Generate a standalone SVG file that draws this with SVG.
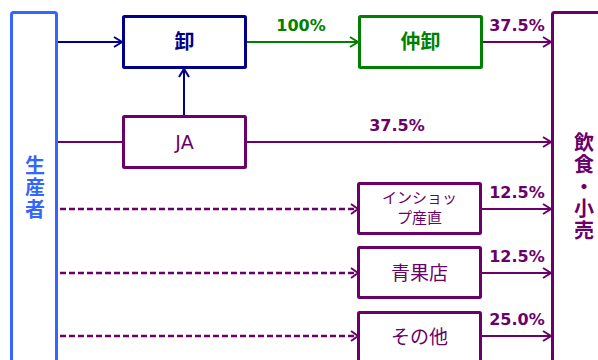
<svg xmlns="http://www.w3.org/2000/svg" width="598" height="360" viewBox="0 0 598 360">
<defs>
<style>
.box{fill:#fff;stroke-width:3}
.ln{fill:none;stroke-width:2}
.dash{fill:none;stroke-width:2.5;stroke-dasharray:6 3;stroke:#6b006b}
.t{font-family:"DejaVu Sans","Noto Sans CJK JP",sans-serif;text-anchor:middle}
.pct{font-family:"DejaVu Sans",sans-serif;font-weight:bold;font-size:16px;text-anchor:middle}
.cjk{font-family:"Noto Sans CJK JP",sans-serif;text-anchor:middle}
.vt{font-family:"Noto Sans CJK JP",sans-serif;writing-mode:vertical-rl;font-weight:bold;font-size:20px}
</style>
<marker id="an" markerUnits="userSpaceOnUse" markerWidth="12" markerHeight="14" refX="10" refY="6" orient="auto" viewBox="0 0 12 12"><path d="M2,1 L10,6 L2,11" fill="none" stroke="#000088" stroke-width="2"/></marker>
<marker id="ag" markerUnits="userSpaceOnUse" markerWidth="12" markerHeight="14" refX="10" refY="6" orient="auto" viewBox="0 0 12 12"><path d="M2,1 L10,6 L2,11" fill="none" stroke="#008000" stroke-width="2"/></marker>
<marker id="ap" markerUnits="userSpaceOnUse" markerWidth="12" markerHeight="14" refX="10" refY="6" orient="auto" viewBox="0 0 12 12"><path d="M2,1 L10,6 L2,11" fill="none" stroke="#6b006b" stroke-width="2"/></marker>
</defs>
<g id="connectors">
<line class="ln" x1="57" y1="42" x2="122" y2="42" stroke="#000088" marker-end="url(#an)"/>
<line class="ln" x1="184" y1="116" x2="184" y2="69" stroke="#000088" marker-end="url(#an)"/>
<line class="ln" x1="246" y1="42" x2="358" y2="42" stroke="#008000" marker-end="url(#ag)"/>
<line class="ln" x1="482" y1="42" x2="551" y2="42" stroke="#6b006b" marker-end="url(#ap)"/>
<line class="ln" x1="57" y1="142" x2="123" y2="142" stroke="#6b006b"/>
<line class="ln" x1="246" y1="142" x2="551" y2="142" stroke="#6b006b" marker-end="url(#ap)"/>
<line class="dash" x1="60" y1="209" x2="357" y2="209"/>
<line class="dash" x1="60" y1="273" x2="357" y2="273"/>
<line class="dash" x1="60" y1="336" x2="357" y2="336"/>
<path d="M351,204 L358,209 L351,214 M351,268 L358,273 L351,278 M351,331 L358,336 L351,341" fill="none" stroke="#6b006b" stroke-width="2"/>
<line class="ln" x1="481" y1="209" x2="551" y2="209" stroke="#6b006b" marker-end="url(#ap)"/>
<line class="ln" x1="481" y1="273" x2="551" y2="273" stroke="#6b006b" marker-end="url(#ap)"/>
<line class="ln" x1="481" y1="336" x2="551" y2="336" stroke="#6b006b" marker-end="url(#ap)"/>
<text class="pct" x="301" y="31" fill="#008000">100%</text>
<text class="pct" x="517" y="31" fill="#6b006b">37.5%</text>
<text class="pct" x="397" y="131" fill="#6b006b">37.5%</text>
<text class="pct" x="517" y="198" fill="#6b006b">12.5%</text>
<text class="pct" x="517" y="262" fill="#6b006b">12.5%</text>
<text class="pct" x="517" y="325" fill="#6b006b">25.0%</text>
</g>
<g id="producer">
<rect class="box" x="11.5" y="12.5" width="45" height="360" rx="2" stroke="#3366ff"/>
<text class="vt" x="35" y="155" fill="#3366ff" letter-spacing="2">生産者</text>
</g>
<g id="oroshi">
<rect class="box" x="123.5" y="16.5" width="122" height="51" rx="1" stroke="#000088"/>
<text class="cjk" x="184.5" y="49" font-size="20" font-weight="bold" fill="#000088">卸</text>
</g>
<g id="ja">
<rect class="box" x="123.5" y="116.5" width="122" height="51" rx="1" stroke="#6b006b"/>
<text class="t" x="184.5" y="149" font-size="19" fill="#6b006b">JA</text>
</g>
<g id="nakaoroshi">
<rect class="box" x="359.5" y="16.5" width="122" height="51" rx="1" stroke="#008000"/>
<text class="cjk" x="420.5" y="49" font-size="20" font-weight="bold" fill="#008000">仲卸</text>
</g>
<g id="inshop">
<rect class="box" x="358.5" y="183.5" width="122" height="50" rx="1" stroke="#6b006b"/>
<text class="cjk" x="419.5" y="203" font-size="15" fill="#6b006b">インショッ</text>
<text class="cjk" x="419.5" y="223" font-size="15" fill="#6b006b">プ産直</text>
</g>
<g id="seikaten">
<rect class="box" x="358.5" y="247.5" width="122" height="50" rx="1" stroke="#6b006b"/>
<text class="cjk" x="419.5" y="280" font-size="19" fill="#6b006b">青果店</text>
</g>
<g id="sonota">
<rect class="box" x="358.5" y="312.5" width="122" height="60" rx="1" stroke="#6b006b"/>
<text class="cjk" x="419.5" y="344" font-size="19" fill="#6b006b">その他</text>
</g>
<g id="restaurant">
<rect class="box" x="552.5" y="12.5" width="60" height="360" rx="2" stroke="#6b006b"/>
<text class="vt" x="584" y="132" fill="#6b006b" letter-spacing="2">飲食・小売</text>
</g>
</svg>
